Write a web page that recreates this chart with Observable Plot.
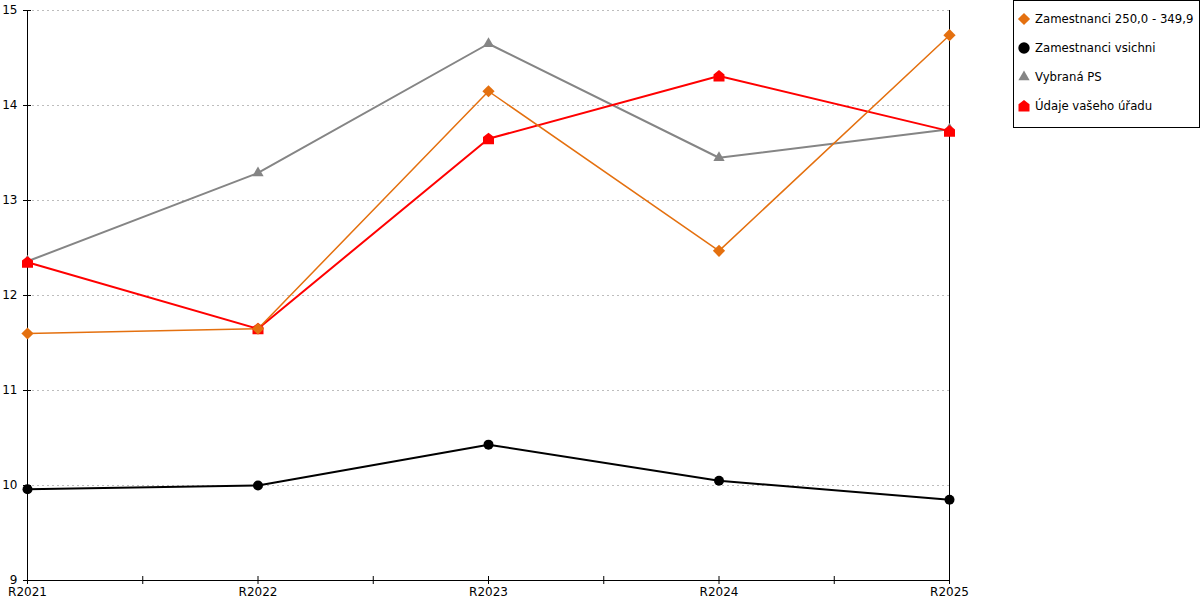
<!DOCTYPE html>
<html>
<head>
<meta charset="utf-8">
<script src="https://cdn.jsdelivr.net/npm/d3@7"></script>
<script src="https://cdn.jsdelivr.net/npm/@observablehq/plot@0.6"></script>
<style>
  html, body { margin: 0; padding: 0; background: #fff; }
  #wrap { position: relative; width: 1200px; height: 600px; font-family: "DejaVu Sans", sans-serif; }
  #legend { position: absolute; left: 1013px; top: 0px; width: 185px; height: 126px; border: 1px solid #000; background: #fff; font-size: 11.7px; }
  .item { position: absolute; left: 3px; display: flex; align-items: center; }
  .item svg { margin-right: 4px; }
</style>
</head>
<body>
<div id="wrap"><div id="legend"></div></div>
<script>
const categories = ["R2021", "R2022", "R2023", "R2024", "R2025"];
const seriesNames = ["Zamestnanci 250,0 - 349,9", "Zamestnanci vsichni", "Vybraná PS", "Údaje vašeho úřadu"];
const orangeValues = [11.60, 11.65, 14.15, 12.47, 14.74];
const blackValues = [9.96, 10.00, 10.43, 10.05, 9.85];
const grayValues = [12.36, 13.29, 14.65, 13.45, 13.75];
const redValues = [12.35, 11.65, 13.65, 14.31, 13.73];
const yTicks = [9, 10, 11, 12, 13, 14, 15];

const house = {
  draw(ctx, size) {
    const r = Math.sqrt(size / Math.PI);
    ctx.moveTo(-r, r);
    ctx.lineTo(r, r);
    ctx.lineTo(r, -0.3 * r);
    ctx.lineTo(0, -1.1 * r);
    ctx.lineTo(-r, -0.3 * r);
    ctx.closePath();
  }
};

const series = [
  {name: seriesNames[2], values: grayValues, color: "#858585", width: 2, symbol: "triangle", r: 4.2},
  {name: seriesNames[1], values: blackValues, color: "#000000", width: 2, symbol: "circle", r: 5},
  {name: seriesNames[3], values: redValues, color: "#ff0000", width: 2, symbol: house, r: 5.5},
  {name: seriesNames[0], values: orangeValues, color: "#e4700f", width: 1.5, symbol: "diamond2", r: 5.5}
];

const rows = s => categories.map((c, i) => ({i, cat: c, v: s.values[i]}));

const marks = [
  Plot.gridY(yTicks.filter(t => t > 9), {stroke: "#bdbdbd", strokeOpacity: 1, strokeDasharray: "2,3"}),
  Plot.axisY({ticks: yTicks, tickSize: 8, dx: 4, tickPadding: 6, fontSize: 12, label: null, stroke: "#000", strokeOpacity: 1, tickFormat: d3.format("d")}),
  Plot.axisX({ticks: d3.range(0, 4.01, 0.5), tickSize: 8, dy: -4, tickPadding: 3, fontSize: 12, label: null, stroke: "#000", strokeOpacity: 1,
    tickFormat: t => Number.isInteger(t) ? categories[t] : ""}),
  Plot.ruleX([0], {y1: 9, y2: 15, stroke: "#000"}),
  Plot.ruleX([4], {y1: 9, y2: 15, stroke: "#000"}),
  Plot.ruleY([9], {x1: 0, x2: 4, stroke: "#000"})
];
for (const s of series) {
  marks.push(Plot.line(rows(s), {x: "i", y: "v", stroke: s.color, strokeWidth: s.width}));
}
for (const s of series) {
  marks.push(Plot.dot(rows(s), {x: "i", y: "v", symbol: () => s.symbol, r: s.r, fill: s.color, stroke: "none"}));
}

const chart = Plot.plot({
  width: 1200,
  height: 600,
  marginLeft: 27,
  marginRight: 251,
  marginTop: 10,
  marginBottom: 20,
  style: {fontFamily: "DejaVu Sans, sans-serif", fontSize: "12px", color: "#000", background: "#fff"},
  x: {type: "linear", domain: [0, 4]},
  y: {domain: [9, 15]},
  symbol: {type: "identity"},
  marks
});
const wrap = document.getElementById("wrap");
wrap.insertBefore(chart, wrap.firstChild);

// legend
const legend = document.getElementById("legend");
const legendOrder = [series[3], series[1], series[0], series[2]];
legendOrder.forEach((s, k) => {
  const div = document.createElement("div");
  div.className = "item";
  div.style.top = (11 + 29 * k) + "px";
  const svg = d3.create("svg").attr("width", 14).attr("height", 14);
  const symType = s.symbol === "triangle" ? d3.symbolTriangle : s.symbol === "circle" ? d3.symbolCircle : s.symbol === "diamond2" ? d3.symbolDiamond2 : house;
  const rr = s.symbol === "circle" ? 5.7 : s.r;
  svg.append("path")
    .attr("transform", "translate(7,7)")
    .attr("d", d3.symbol(symType, Math.PI * rr * rr)())
    .attr("fill", s.color);
  div.appendChild(svg.node());
  const span = document.createElement("span");
  span.textContent = s.name;
  div.appendChild(span);
  legend.appendChild(div);
});
</script>
</body>
</html>
